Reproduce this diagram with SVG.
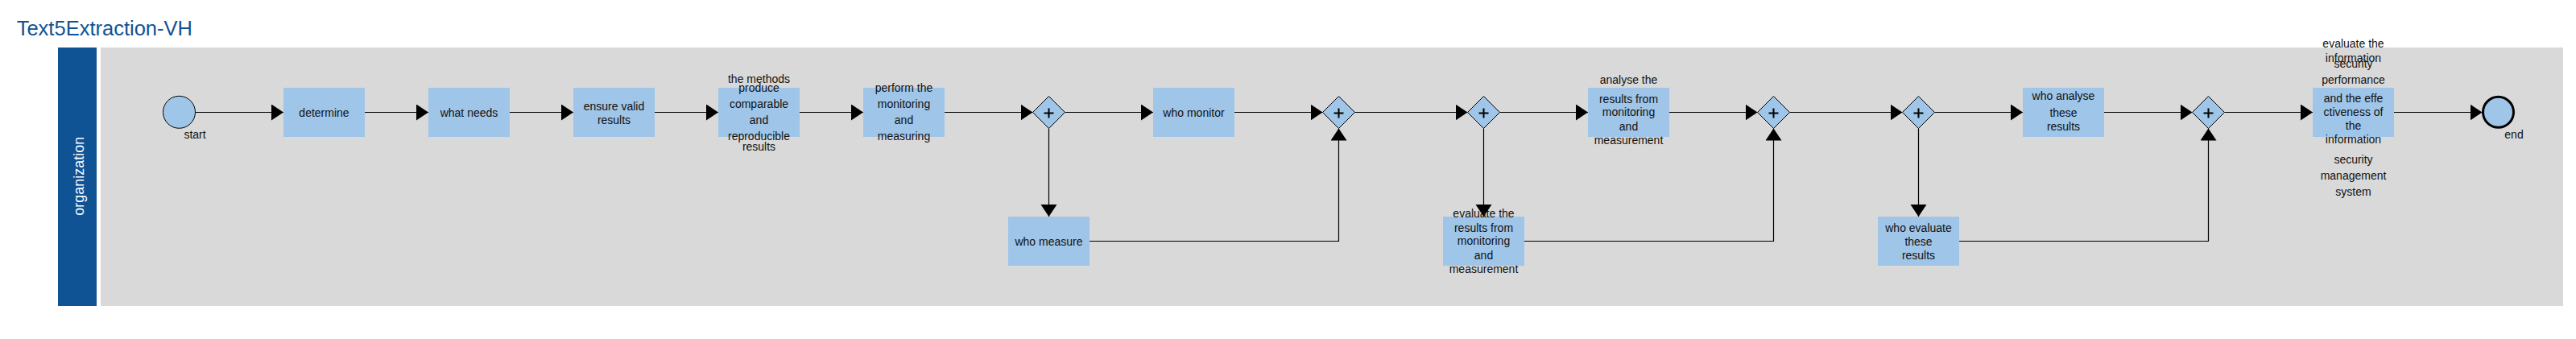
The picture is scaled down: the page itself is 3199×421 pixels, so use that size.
<svg xmlns="http://www.w3.org/2000/svg" width="3199" height="421" viewBox="0 0 3199 421">
<style>
.task{fill:#9fc5e8;}
.gw{fill:#9fc5e8;stroke:#000;stroke-width:1;}
.plus{stroke:#000;stroke-width:2;fill:none;}
.lbl{font-family:"Liberation Sans",Arial,sans-serif;font-size:14px;fill:#111;text-anchor:middle;}
.flow{stroke:#000;stroke-width:1.2;fill:none;}
</style>
<defs>
<marker id="ah" markerUnits="userSpaceOnUse" markerWidth="16" markerHeight="21" refX="15" refY="10" orient="auto" viewBox="0 0 16 21">
<path d="M0,0 L15,10 L0,20 Z" fill="#000"/>
</marker>
</defs>
<rect width="3199" height="421" fill="#fff"/>
<text x="20.7" y="44" font-family="Liberation Sans,Arial,sans-serif" font-size="25.5" fill="#0f5394">Text5Extraction-VH</text>
<g id="pool">
<rect x="72" y="59" width="48" height="321" fill="#0f5394"/>
<rect x="125" y="59" width="3058" height="321" fill="#d9d9d9"/>
<text transform="translate(103.5,218.8) rotate(-90)" font-family="Liberation Sans,Arial,sans-serif" font-size="18" fill="#fff" text-anchor="middle">organization</text>
</g>
<g id="connectors">
<path class="flow" d="M242.5,139.5 H352" marker-end="url(#ah)"/>
<path class="flow" d="M453,139.5 H532" marker-end="url(#ah)"/>
<path class="flow" d="M633,139.5 H712" marker-end="url(#ah)"/>
<path class="flow" d="M813,139.5 H892" marker-end="url(#ah)"/>
<path class="flow" d="M993,139.5 H1072" marker-end="url(#ah)"/>
<path class="flow" d="M1173,139.5 H1282.5" marker-end="url(#ah)"/>
<path class="flow" d="M1322.5,139.5 H1432" marker-end="url(#ah)"/>
<path class="flow" d="M1533,139.5 H1642.5" marker-end="url(#ah)"/>
<path class="flow" d="M1302.5,159.5 V269" marker-end="url(#ah)"/>
<path class="flow" d="M1353,299.5 H1662.5 V159.5" marker-end="url(#ah)"/>
<path class="flow" d="M1682.5,139.5 H1822.5" marker-end="url(#ah)"/>
<path class="flow" d="M1862.5,139.5 H1972" marker-end="url(#ah)"/>
<path class="flow" d="M1842.5,159.5 V269" marker-end="url(#ah)"/>
<path class="flow" d="M2073,139.5 H2182.5" marker-end="url(#ah)"/>
<path class="flow" d="M1893,299.5 H2202.5 V159.5" marker-end="url(#ah)"/>
<path class="flow" d="M2222.5,139.5 H2362.5" marker-end="url(#ah)"/>
<path class="flow" d="M2402.5,139.5 H2512" marker-end="url(#ah)"/>
<path class="flow" d="M2382.5,159.5 V269" marker-end="url(#ah)"/>
<path class="flow" d="M2613,139.5 H2722.5" marker-end="url(#ah)"/>
<path class="flow" d="M2433,299.5 H2742.5 V159.5" marker-end="url(#ah)"/>
<path class="flow" d="M2762.5,139.5 H2872" marker-end="url(#ah)"/>
<path class="flow" d="M2973,139.5 H3082.5" marker-end="url(#ah)"/>
</g>
<g id="start">
<circle cx="222.5" cy="139.3" r="20" fill="#9fc5e8" stroke="#000" stroke-width="1"/>
<text class="lbl" x="242" y="171.7">start</text>
</g>
<g id="t_determine">
<rect class="task" x="352" y="109" width="101" height="61"/>
<text class="lbl" x="402.5" y="144.5">determine</text>
</g>
<g id="t_whatneeds">
<rect class="task" x="532" y="109" width="101" height="61"/>
<text class="lbl" x="582.5" y="144.5">what needs</text>
</g>
<g id="t_ensure">
<rect class="task" x="712" y="109" width="101" height="61"/>
<text class="lbl" x="762.5" y="137.3">ensure valid</text>
<text class="lbl" x="762.5" y="153.7">results</text>
</g>
<g id="t_methods">
<rect class="task" x="892" y="109" width="101" height="61"/>
<text class="lbl" x="942.5" y="102.7">the methods</text>
<text class="lbl" x="942.5" y="114">produce</text>
<text class="lbl" x="942.5" y="134">comparable</text>
<text class="lbl" x="942.5" y="154">and</text>
<text class="lbl" x="942.5" y="174">reproducible</text>
<text class="lbl" x="942.5" y="187.3">results</text>
</g>
<g id="t_perform">
<rect class="task" x="1072" y="109" width="101" height="61"/>
<text class="lbl" x="1122.5" y="113.5">perform the</text>
<text class="lbl" x="1122.5" y="134">monitoring</text>
<text class="lbl" x="1122.5" y="154">and</text>
<text class="lbl" x="1122.5" y="174">measuring</text>
</g>
<g id="gw1">
<path class="gw" d="M1302.5,119.5 L1322.5,139.5 L1302.5,159.5 L1282.5,139.5 Z"/>
<path class="plus" d="M1296.5,140.5 H1308.5 M1302.5,134.5 V146.5"/>
</g>
<g id="t_whomonitor">
<rect class="task" x="1432" y="109" width="101" height="61"/>
<text class="lbl" x="1482.5" y="144.5">who monitor</text>
</g>
<g id="t_whomeasure">
<rect class="task" x="1252" y="269" width="101" height="61"/>
<text class="lbl" x="1302.5" y="304.5">who measure</text>
</g>
<g id="gw2">
<path class="gw" d="M1662.5,119.5 L1682.5,139.5 L1662.5,159.5 L1642.5,139.5 Z"/>
<path class="plus" d="M1656.5,140.5 H1668.5 M1662.5,134.5 V146.5"/>
</g>
<g id="gw3">
<path class="gw" d="M1842.5,119.5 L1862.5,139.5 L1842.5,159.5 L1822.5,139.5 Z"/>
<path class="plus" d="M1836.5,140.5 H1848.5 M1842.5,134.5 V146.5"/>
</g>
<g id="t_analyse">
<rect class="task" x="1972" y="109" width="101" height="61"/>
<text class="lbl" x="2022.5" y="104">analyse the</text>
<text class="lbl" x="2022.5" y="127.5">results from</text>
<text class="lbl" x="2022.5" y="144">monitoring</text>
<text class="lbl" x="2022.5" y="161.5">and</text>
<text class="lbl" x="2022.5" y="178.5">measurement</text>
</g>
<g id="t_evalresults">
<rect class="task" x="1792" y="269" width="101" height="61"/>
<text class="lbl" x="1842.5" y="270">evaluate the</text>
<text class="lbl" x="1842.5" y="287.5">results from</text>
<text class="lbl" x="1842.5" y="304">monitoring</text>
<text class="lbl" x="1842.5" y="321.5">and</text>
<text class="lbl" x="1842.5" y="338.5">measurement</text>
</g>
<g id="gw4">
<path class="gw" d="M2202.5,119.5 L2222.5,139.5 L2202.5,159.5 L2182.5,139.5 Z"/>
<path class="plus" d="M2196.5,140.5 H2208.5 M2202.5,134.5 V146.5"/>
</g>
<g id="gw5">
<path class="gw" d="M2382.5,119.5 L2402.5,139.5 L2382.5,159.5 L2362.5,139.5 Z"/>
<path class="plus" d="M2376.5,140.5 H2388.5 M2382.5,134.5 V146.5"/>
</g>
<g id="t_whoanalyse">
<rect class="task" x="2512" y="109" width="101" height="61"/>
<text class="lbl" x="2562.5" y="124">who analyse</text>
<text class="lbl" x="2562.5" y="145">these</text>
<text class="lbl" x="2562.5" y="161.7">results</text>
</g>
<g id="t_whoevaluate">
<rect class="task" x="2332" y="269" width="101" height="61"/>
<text class="lbl" x="2382.5" y="288.3">who evaluate</text>
<text class="lbl" x="2382.5" y="305">these</text>
<text class="lbl" x="2382.5" y="321.7">results</text>
</g>
<g id="gw6">
<path class="gw" d="M2742.5,119.5 L2762.5,139.5 L2742.5,159.5 L2722.5,139.5 Z"/>
<path class="plus" d="M2736.5,140.5 H2748.5 M2742.5,134.5 V146.5"/>
</g>
<g id="t_evaluate">
<rect class="task" x="2872" y="109" width="101" height="61"/>
<text class="lbl" x="2922.5" y="59.3">evaluate the</text>
<text class="lbl" x="2922.5" y="76.7">information</text>
<text class="lbl" x="2922.5" y="84">security</text>
<text class="lbl" x="2922.5" y="104">performance</text>
<text class="lbl" x="2922.5" y="127.3">and the effe</text>
<text class="lbl" x="2922.5" y="144.3">ctiveness of</text>
<text class="lbl" x="2922.5" y="161">the</text>
<text class="lbl" x="2922.5" y="178.3">information</text>
<text class="lbl" x="2922.5" y="203.3">security</text>
<text class="lbl" x="2922.5" y="223.3">management</text>
<text class="lbl" x="2922.5" y="243.3">system</text>
</g>
<g id="end">
<circle cx="3102.5" cy="139.3" r="19" fill="#9fc5e8" stroke="#000" stroke-width="3"/>
<text class="lbl" x="3122" y="171.7">end</text>
</g>
</svg>
